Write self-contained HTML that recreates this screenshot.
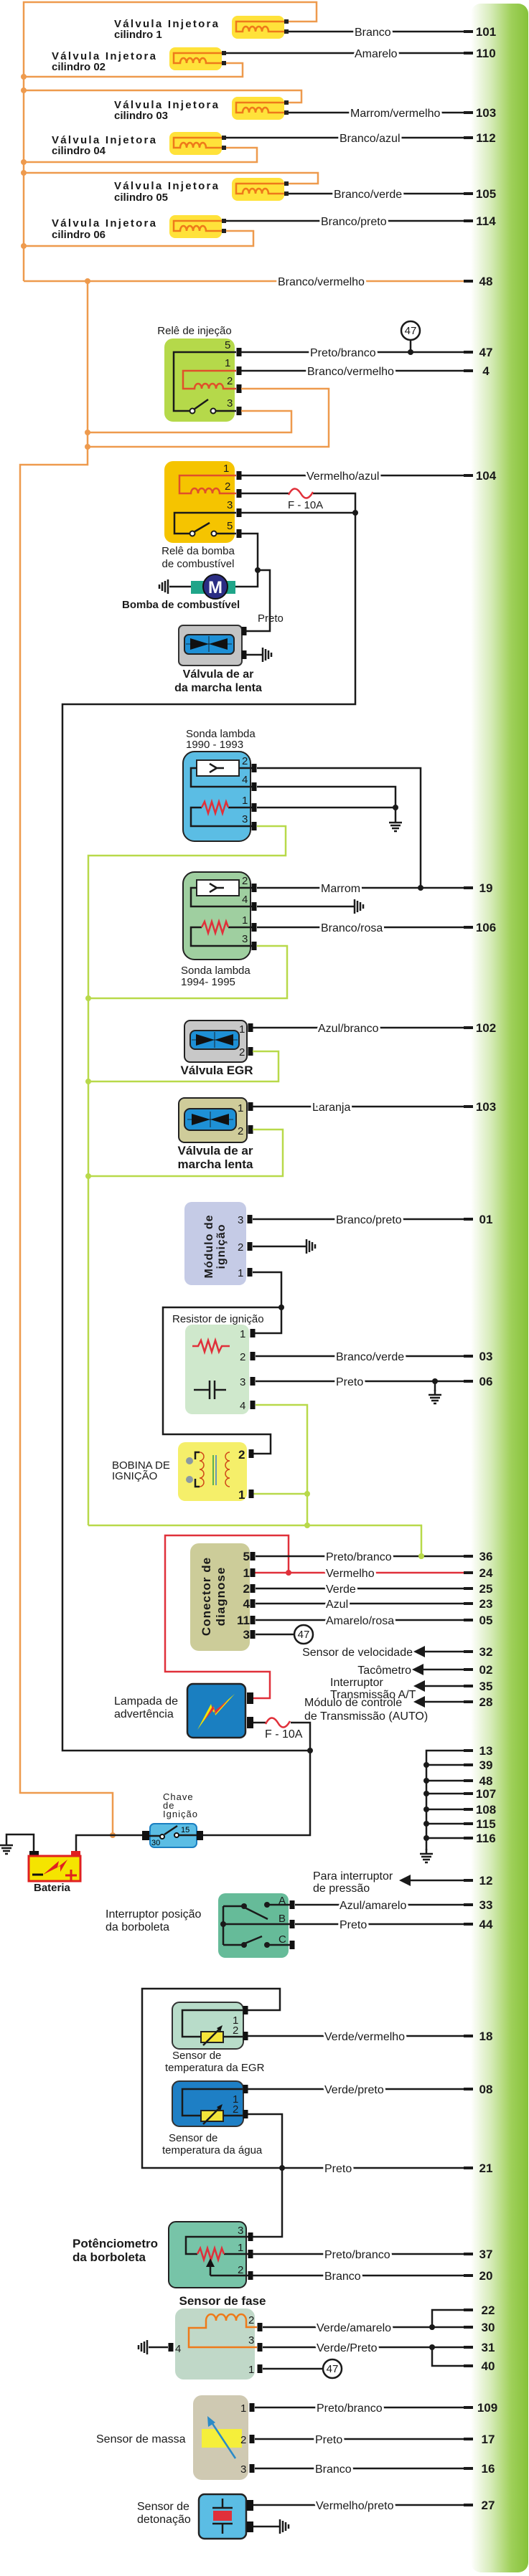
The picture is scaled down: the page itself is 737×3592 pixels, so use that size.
<!DOCTYPE html>
<html><head><meta charset="utf-8"><style>
html,body{margin:0;padding:0;background:#fff}
svg{display:block}
.l{font:16px "Liberation Sans",sans-serif;fill:#1a1a1a;stroke:#fff;stroke-width:6;paint-order:stroke;stroke-linejoin:round}
.c{font:15px "Liberation Sans",sans-serif;fill:#1a1a1a}
.b{font:bold 15px "Liberation Sans",sans-serif;fill:#1a1a1a}
.n{font:bold 17px "Liberation Sans",sans-serif;fill:#1a1a1a;text-anchor:middle}
.pn{font:15px "Liberation Sans",sans-serif;fill:#1a1a1a}
.k{stroke:#1a1a1a;stroke-width:2.5;fill:none}
.o{stroke:#ee9a4d;stroke-width:2.5;fill:none}
.g{stroke:#b8d94a;stroke-width:2.5;fill:none}
.r{stroke:#e0303a;stroke-width:2.5;fill:none}
.t{stroke:#1a1a1a;stroke-width:4;fill:none}
</style></head><body>
<svg width="737" height="3592" viewBox="0 0 737 3592" xmlns="http://www.w3.org/2000/svg">
<defs>
<linearGradient id="gb" x1="0" x2="1" y1="0" y2="0">
<stop offset="0" stop-color="#ffffff"/><stop offset="0.35" stop-color="#d6ebb8"/><stop offset="0.7" stop-color="#9fd05a"/><stop offset="1" stop-color="#86c23a"/>
</linearGradient>
<rect id="p" x="-3.5" y="-6" width="7" height="12" fill="#111"/>
<g id="gd" stroke="#1a1a1a" stroke-width="2.5" fill="none"><path d="M0 0v7M-9 7h18M-7 11h14M-5 15h10M-2 19h4"/></g>
<g id="gr" stroke="#1a1a1a" stroke-width="2.5" fill="none"><path d="M0 -10v20M4 -8v16M8 -6v12M12 -3v6"/></g>
<g id="gl" stroke="#1a1a1a" stroke-width="2.5" fill="none"><path d="M0 -10v20M-4 -8v16M-8 -6v12M-12 -3v6"/></g>
<g id="inj"><rect x="0" y="0" width="73" height="32" rx="8" fill="#ffe23a"/>
<path d="M74 8H6V22H15a4.5 7 0 0 1 9 0a4.5 7 0 0 1 9 0a4.5 7 0 0 1 9 0a4.5 7 0 0 1 9 0H60V22H74" stroke="#ee7a1a" stroke-width="2.5" fill="none"/>
<rect x="73" y="5" width="6" height="6" fill="#222"/><rect x="73" y="19" width="6" height="6" fill="#222"/></g>
<g id="bow"><polygon points="8,5 34,13 8,21" fill="#111"/><polygon points="60,5 34,13 60,21" fill="#111"/><path d="M34 2v22M2 13h64" stroke="#111" stroke-width="0.8"/></g>
</defs>

<!-- green bar -->
<rect x="656" y="5" width="80" height="3582" rx="14" fill="url(#gb)"/>

<!-- ===== injectors ===== -->
<path class="o" d="M33 392V3H441V30H402"/>
<path class="o" d="M314 88H338V107H33"/>
<path class="o" d="M33 126H420V143H402"/>
<path class="o" d="M314 206H358V226H33"/>
<path class="o" d="M33 241H443V256H402"/>
<path class="o" d="M314 322H353V343H33"/>
<path class="o" d="M33 392H646M122 392V648H28V2500H157V2559"/>
<g fill="#ee9a4d"><circle cx="33" cy="107" r="4"/><circle cx="33" cy="126" r="4"/><circle cx="33" cy="226" r="4"/><circle cx="33" cy="241" r="4"/><circle cx="33" cy="343" r="4"/><circle cx="122" cy="392" r="4"/><circle cx="122" cy="603" r="4"/><circle cx="122" cy="623" r="4"/><circle cx="157" cy="2559" r="4"/></g>
<path class="t" d="M646 392H659"/>
<text class="l" x="387" y="398">Branco/vermelho</text><text class="n" x="677" y="398">48</text>

<use href="#inj" x="323" y="22"/><use href="#inj" x="236" y="66"/><use href="#inj" x="323" y="135"/>
<use href="#inj" x="236" y="184"/><use href="#inj" x="323" y="248"/><use href="#inj" x="236" y="300"/>

<g class="b">
<text x="159" y="38" textLength="145">Válvula Injetora</text><text x="159" y="53">cilindro 1</text>
<text x="72" y="83" textLength="145">Válvula Injetora</text><text x="72" y="98">cilindro 02</text>
<text x="159" y="151" textLength="145">Válvula Injetora</text><text x="159" y="166">cilindro 03</text>
<text x="72" y="200" textLength="145">Válvula Injetora</text><text x="72" y="215">cilindro 04</text>
<text x="159" y="264" textLength="145">Válvula Injetora</text><text x="159" y="280">cilindro 05</text>
<text x="72" y="316" textLength="145">Válvula Injetora</text><text x="72" y="332">cilindro 06</text>
</g>
<path class="k" d="M402 44H646M314 74H646M402 157H646M314 192H646M402 270H646M314 308H646"/>
<path class="t" d="M646 44H659M646 74H659M646 157H659M646 192H659M646 270H659M646 308H659"/>
<text class="l" x="494" y="50">Branco</text><text class="n" x="677" y="50">101</text>
<text class="l" x="494" y="80">Amarelo</text><text class="n" x="677" y="80">110</text>
<text class="l" x="488" y="163">Marrom/vermelho</text><text class="n" x="677" y="163">103</text>
<text class="l" x="473" y="198">Branco/azul</text><text class="n" x="677" y="198">112</text>
<text class="l" x="465" y="276">Branco/verde</text><text class="n" x="677" y="276">105</text>
<text class="l" x="447" y="314">Branco/preto</text><text class="n" x="677" y="314">114</text>

<!-- ===== relé de injeção ===== -->
<text class="c" x="271" y="466" text-anchor="middle">Relê de injeção</text>
<rect x="229" y="472" width="98" height="116" rx="12" fill="#b5d94a"/>
<path class="k" d="M329 491H242V573H265M300 573H329M270 571L290 557"/>
<circle cx="268" cy="573" r="3.5" fill="#fff" stroke="#1a1a1a" stroke-width="2"/><circle cx="297" cy="573" r="3.5" fill="#fff" stroke="#1a1a1a" stroke-width="2"/>
<path d="M329 517H255V542H271a5 7 0 0 1 10 0a5 7 0 0 1 10 0a5 7 0 0 1 10 0a5 7 0 0 1 10 0H329" stroke="#e0502a" stroke-width="2.5" fill="none"/>
<use href="#p" x="333" y="491"/><use href="#p" x="333" y="517"/><use href="#p" x="333" y="542"/><use href="#p" x="333" y="573"/>
<g class="pn"><text x="313" y="486">5</text><text x="313" y="511">1</text><text x="316" y="536">2</text><text x="316" y="567">3</text></g>
<path class="k" d="M336 491H646M572 474V491M336 517H646"/>
<path class="t" d="M646 491H659M646 517H659"/>
<circle cx="572" cy="491" r="4" fill="#1a1a1a"/>
<circle cx="572" cy="461" r="13" fill="#fff" stroke="#1a1a1a" stroke-width="2.5"/><text x="572" y="466" text-anchor="middle" class="pn">47</text>
<text class="l" x="432" y="497">Preto/branco</text><text class="n" x="677" y="497">47</text>
<text class="l" x="428" y="523">Branco/vermelho</text><text class="n" x="677" y="523">4</text>
<path class="o" d="M336 542H458V623H122M336 573H406V603H122"/>

<!-- ===== relé bomba ===== -->
<rect x="229" y="643" width="98" height="114" rx="12" fill="#f5c400"/>
<path d="M329 663H250V688H266a5 7 0 0 1 10 0a5 7 0 0 1 10 0a5 7 0 0 1 10 0a5 7 0 0 1 10 0H329" stroke="#e0502a" stroke-width="2.5" fill="none"/>
<path class="k" d="M329 715H243V744H265M301 744H329M270 742L292 729"/>
<circle cx="268" cy="744" r="3.5" fill="#fff" stroke="#1a1a1a" stroke-width="2"/><circle cx="298" cy="744" r="3.5" fill="#fff" stroke="#1a1a1a" stroke-width="2"/>
<use href="#p" x="333" y="663"/><use href="#p" x="333" y="688"/><use href="#p" x="333" y="715"/><use href="#p" x="333" y="744"/>
<g class="pn"><text x="311" y="658">1</text><text x="313" y="683">2</text><text x="316" y="709">3</text><text x="316" y="738">5</text></g>
<path class="k" d="M336 663H646"/><path class="t" d="M646 663H659"/>
<text class="l" x="427" y="669">Vermelho/azul</text><text class="n" x="677" y="669">104</text>
<path class="k" d="M336 688H402M436 688H495V982H87V2441H432M336 715H495"/>
<path d="M402 690q8 -16 17 -2q8 14 17 -2" stroke="#e0303a" stroke-width="2.5" fill="none"/>
<text class="c" x="401" y="709">F - 10A</text>
<circle cx="495" cy="715" r="4" fill="#1a1a1a"/>
<text class="c" x="276" y="773" text-anchor="middle">Relê da bomba</text>
<text class="c" x="276" y="791" text-anchor="middle">de combustível</text>
<path class="k" d="M336 744H359V818H328M359 795H376V880H340M266 818H236"/>
<circle cx="359" cy="795" r="4" fill="#1a1a1a"/>
<use href="#gl" x="234" y="818"/>
<rect x="266" y="810" width="62" height="18" fill="#1fa589"/>
<circle cx="300" cy="818" r="17" fill="#2b2d84" stroke="#111" stroke-width="2"/>
<text x="300" y="827" text-anchor="middle" style="font:bold 24px 'Liberation Sans',sans-serif;fill:#fff">M</text>
<text class="b" x="170" y="848">Bomba de combustível</text>
<text class="c" x="359" y="867">Preto</text>

<!-- valvula marcha lenta -->
<rect x="249" y="872" width="88" height="56" rx="6" fill="#c4c4c4" stroke="#333" stroke-width="2"/>
<rect x="257" y="885" width="69" height="27" rx="6" fill="#1e90d6" stroke="#222" stroke-width="2"/>
<use href="#bow" x="257" y="885" transform="translate(0,0)"/>
<use href="#p" x="340" y="880"/><use href="#p" x="340" y="913"/>
<path class="k" d="M343 913H366"/><use href="#gr" x="366" y="913"/>
<text class="b" x="304" y="945" text-anchor="middle" style="font-size:16px">Válvula de ar</text>
<text class="b" x="304" y="964" text-anchor="middle" style="font-size:16px">da marcha lenta</text>

<!-- ===== sonda 1 ===== -->
<text class="c" x="259" y="1028">Sonda lambda</text><text class="c" x="259" y="1043">1990 - 1993</text>
<rect x="255" y="1048" width="94" height="125" rx="16" fill="#5bbde4" stroke="#222" stroke-width="2"/>
<rect x="274" y="1060" width="59" height="22" fill="#fff" stroke="#222" stroke-width="2"/>
<path class="k" d="M292 1065L302 1071L292 1077M302 1071H312M274 1071H266V1097H351M318 1126H351M281 1126H266V1152H351M333 1071H351"/>
<path d="M281 1126l4-8l5 16l5-16l5 16l5-16l5 16l5-16l3 8" stroke="#e0303a" stroke-width="2.5" fill="none"/>
<use href="#p" x="354" y="1071"/><use href="#p" x="354" y="1097"/><use href="#p" x="354" y="1126"/><use href="#p" x="354" y="1152"/>
<g class="pn"><text x="337" y="1066">2</text><text x="337" y="1092">4</text><text x="337" y="1121">1</text><text x="337" y="1147">3</text></g>
<path class="k" d="M358 1071H586V1238M358 1097H551V1140M358 1126H551"/>
<circle cx="551" cy="1126" r="4" fill="#1a1a1a"/><use href="#gd" x="551" y="1140"/>
<path class="g" d="M358 1152H398V1193H123V2127"/>

<!-- sonda 2 -->
<rect x="255" y="1216" width="94" height="122" rx="16" fill="#9fcfa0" stroke="#222" stroke-width="2"/>
<g transform="translate(0,167)">
<rect x="274" y="1060" width="59" height="22" fill="#fff" stroke="#222" stroke-width="2"/>
<path class="k" d="M292 1065L302 1071L292 1077M302 1071H312M274 1071H266V1097H351M318 1126H351M281 1126H266V1152H351M333 1071H351"/>
<path d="M281 1126l4-8l5 16l5-16l5 16l5-16l5 16l5-16l3 8" stroke="#e0303a" stroke-width="2.5" fill="none"/>
<use href="#p" x="354" y="1071"/><use href="#p" x="354" y="1097"/><use href="#p" x="354" y="1126"/><use href="#p" x="354" y="1152"/>
<g class="pn"><text x="337" y="1066">2</text><text x="337" y="1092">4</text><text x="337" y="1121">1</text><text x="337" y="1147">3</text></g>
</g>
<path class="k" d="M358 1238H646M358 1264H494M358 1293H646"/>
<use href="#gr" x="494" y="1264"/>
<circle cx="586" cy="1238" r="4" fill="#1a1a1a"/>
<path class="t" d="M646 1238H659M646 1293H659"/>
<text class="l" x="447" y="1244">Marrom</text><text class="n" x="677" y="1244">19</text>
<text class="l" x="447" y="1299">Branco/rosa</text><text class="n" x="677" y="1299">106</text>
<path class="g" d="M358 1319H400V1392H123"/>
<text class="c" x="252" y="1358">Sonda lambda</text><text class="c" x="252" y="1374">1994- 1995</text>

<!-- EGR -->
<rect x="257" y="1423" width="87" height="58" rx="8" fill="#c8c8c8" stroke="#222" stroke-width="2"/>
<rect x="265" y="1437" width="68" height="26" rx="7" fill="#1e90d6" stroke="#222" stroke-width="2"/>
<use href="#bow" transform="translate(265,1437)"/>
<use href="#p" x="349" y="1433"/><use href="#p" x="349" y="1466"/>
<g class="pn"><text x="333" y="1440">1</text><text x="333" y="1472">2</text></g>
<path class="k" d="M352 1433H646"/><path class="t" d="M646 1433H659"/>
<text class="l" x="443" y="1439">Azul/branco</text><text class="n" x="677" y="1439">102</text>
<path class="g" d="M352 1466H388V1508H123"/>
<text class="b" x="302" y="1498" text-anchor="middle" style="font-size:17px">Válvula EGR</text>

<!-- valve 2 -->
<rect x="249" y="1531" width="95" height="62" rx="8" fill="#cfcc9a" stroke="#222" stroke-width="2"/>
<rect x="257" y="1546" width="72" height="30" rx="8" fill="#1e90d6" stroke="#222" stroke-width="2"/>
<use href="#bow" transform="translate(259,1548)"/>
<use href="#p" x="349" y="1543"/><use href="#p" x="349" y="1575"/>
<g class="pn"><text x="331" y="1550">1</text><text x="331" y="1582">2</text></g>
<path class="k" d="M352 1543H646"/><path class="t" d="M646 1543H659"/>
<text class="l" x="435" y="1549">Laranja</text><text class="n" x="677" y="1549">103</text>
<path class="g" d="M352 1575H394V1640H123"/>
<text class="b" x="300" y="1610" text-anchor="middle" style="font-size:17px">Válvula de ar</text>
<text class="b" x="300" y="1629" text-anchor="middle" style="font-size:17px">marcha lenta</text>
<g fill="#b8d94a"><circle cx="123" cy="1392" r="4"/><circle cx="123" cy="1508" r="4"/><circle cx="123" cy="1640" r="4"/><circle cx="428" cy="2083" r="4"/><circle cx="428" cy="2127" r="4"/><circle cx="587" cy="2170" r="4"/></g>

<!-- modulo ignição -->
<rect x="257" y="1676" width="86" height="116" rx="10" fill="#c5cbe6"/>
<text class="b" transform="translate(296,1738) rotate(-90)" text-anchor="middle" style="font-size:16px;letter-spacing:1px">Módulo de</text>
<text class="b" transform="translate(313,1738) rotate(-90)" text-anchor="middle" style="font-size:16px;letter-spacing:1px">ignição</text>
<use href="#p" x="348" y="1700"/><use href="#p" x="348" y="1738"/><use href="#p" x="348" y="1774"/>
<g class="pn"><text x="331" y="1706">3</text><text x="331" y="1744">2</text><text x="331" y="1780">1</text></g>
<path class="k" d="M352 1700H646M352 1738H427M352 1774H392V1859H355M392 1823H227V2000H377V2027H352"/>
<use href="#gr" x="427" y="1738"/>
<circle cx="392" cy="1823" r="4" fill="#1a1a1a"/>
<path class="t" d="M646 1700H659"/>
<text class="l" x="468" y="1706">Branco/preto</text><text class="n" x="677" y="1706">01</text>

<!-- resistor -->
<text class="c" x="240" y="1844">Resistor de ignição</text>
<rect x="258" y="1847" width="89" height="125" rx="10" fill="#cfe8cc"/>
<path d="M268 1877h8l4-8l5 16l5-16l5 16l5-16l5 16l4-8h11" stroke="#e0303a" stroke-width="2.5" fill="none"/>
<path class="k" d="M270 1938H292M292 1925V1951M299 1925V1951M299 1938H315"/>
<use href="#p" x="352" y="1859"/><use href="#p" x="352" y="1891"/><use href="#p" x="352" y="1926"/><use href="#p" x="352" y="1959"/>
<g class="pn"><text x="334" y="1865">1</text><text x="334" y="1897">2</text><text x="334" y="1932">3</text><text x="334" y="1965">4</text></g>
<path class="k" d="M356 1891H646M356 1926H646M606 1926V1940"/>
<circle cx="606" cy="1926" r="4" fill="#1a1a1a"/><use href="#gd" x="606" y="1938"/>
<path class="t" d="M646 1891H659M646 1926H659"/>
<text class="l" x="468" y="1897">Branco/verde</text><text class="n" x="677" y="1897">03</text>
<text class="l" x="468" y="1932">Preto</text><text class="n" x="677" y="1932">06</text>
<path class="g" d="M356 1959H428V2127M352 2083H428M123 2127H587V2170"/>

<!-- bobina -->
<rect x="248" y="2011" width="96" height="82" rx="10" fill="#f5ef6a"/>
<path class="k" d="M272 2035V2025H278M272 2062V2073H278"/>
<circle cx="264" cy="2037" r="5" fill="#8b9aa3"/><circle cx="264" cy="2063" r="5" fill="#8b9aa3"/>
<path d="M278 2025a6 6 0 0 1 0 12a6 6 0 0 1 0 12a6 6 0 0 1 0 12a6 6 0 0 1 0 12" stroke="#d04a1a" stroke-width="1.5" fill="none"/>
<path d="M320 2025a6 6 0 0 0 0 12a6 6 0 0 0 0 12a6 6 0 0 0 0 12a6 6 0 0 0 0 12" stroke="#d04a1a" stroke-width="1.5" fill="none"/>
<path d="M297 2029V2071" stroke="#2a9a4a" stroke-width="1.5"/><path d="M301 2029V2071" stroke="#3a7ad0" stroke-width="1.5"/>
<use href="#p" x="350" y="2027"/><use href="#p" x="350" y="2083"/>
<g class="n" style="text-anchor:start"><text x="332" y="2034">2</text><text x="332" y="2090">1</text></g>
<text class="c" x="156" y="2048">BOBINA DE</text><text class="c" x="156" y="2063">IGNIÇÃO</text>

<!-- diagnose -->
<path class="r" d="M402 2193V2141H230V2331H376V2368H352M352 2193H646"/>
<circle cx="402" cy="2193" r="4" fill="#e0303a"/>
<rect x="265" y="2152" width="83" height="150" rx="12" fill="#cccc99"/>
<text class="b" transform="translate(293,2226) rotate(-90)" text-anchor="middle" style="font-size:17px;letter-spacing:1px">Conector de</text>
<text class="b" transform="translate(313,2226) rotate(-90)" text-anchor="middle" style="font-size:17px;letter-spacing:1px">diagnose</text>
<use href="#p" x="352" y="2170"/><use href="#p" x="352" y="2193"/><use href="#p" x="352" y="2215"/><use href="#p" x="352" y="2236"/><use href="#p" x="352" y="2259"/><use href="#p" x="352" y="2279"/>
<g class="n" style="text-anchor:end"><text x="348" y="2176">5</text><text x="348" y="2199">1</text><text x="348" y="2221">2</text><text x="348" y="2242">4</text><text x="348" y="2265">11</text><text x="348" y="2285">3</text></g>
<path class="k" d="M356 2170H646M356 2215H646M356 2236H646M356 2259H646M356 2279H410"/>
<path class="t" d="M646 2170H659M646 2215H659M646 2236H659M646 2259H659"/><path d="M646 2193H659" stroke="#1a1a1a" stroke-width="4"/>
<circle cx="587" cy="2170" r="4" fill="#b8d94a"/>
<text class="l" x="454" y="2176">Preto/branco</text><text class="n" x="677" y="2176">36</text>
<text class="l" x="454" y="2199">Vermelho</text><text class="n" x="677" y="2199">24</text>
<text class="l" x="454" y="2221">Verde</text><text class="n" x="677" y="2221">25</text>
<text class="l" x="454" y="2242">Azul</text><text class="n" x="677" y="2242">23</text>
<text class="l" x="454" y="2265">Amarelo/rosa</text><text class="n" x="677" y="2265">05</text>
<circle cx="423" cy="2279" r="13" fill="#fff" stroke="#1a1a1a" stroke-width="2.5"/><text x="423" y="2284" text-anchor="middle" class="pn">47</text>

<!-- arrows -->
<path class="k" d="M646 2303H588M646 2328H586M646 2351H588M646 2373H588"/>
<path class="t" d="M646 2303H659M646 2328H659M646 2351H659M646 2373H659"/>
<g fill="#1a1a1a"><polygon points="576,2303 592,2295 592,2311"/><polygon points="574,2328 590,2320 590,2336"/><polygon points="576,2351 592,2343 592,2359"/><polygon points="576,2373 592,2365 592,2381"/></g>
<text class="c" x="575" y="2309" text-anchor="end" style="font-size:16px">Sensor de velocidade</text><text class="n" x="677" y="2309">32</text>
<text class="c" x="573" y="2334" text-anchor="end" style="font-size:16px">Tacômetro</text><text class="n" x="677" y="2334">02</text>
<text class="c" x="460" y="2351" style="font-size:16px">Interruptor</text><text class="c" x="460" y="2368" style="font-size:16px">Transmissão A/T</text><text class="n" x="677" y="2357">35</text>
<text class="c" x="424" y="2379" style="font-size:16px">Módulo de controle</text><text class="c" x="424" y="2398" style="font-size:16px">de Transmissão (AUTO)</text><text class="n" x="677" y="2379">28</text>

<!-- lamp -->
<rect x="261" y="2348" width="81" height="75" rx="8" fill="#1a7fc1" stroke="#222" stroke-width="2.5"/>
<polygon points="327,2362 300,2392 298,2380 275,2412 294,2376 297,2388" fill="#f5e400"/>
<polygon points="318,2370 300,2390 299,2382 284,2400 297,2378 299,2386" fill="#e0303a"/>
<rect x="344" y="2360" width="9" height="16" fill="#111"/><rect x="344" y="2394" width="9" height="16" fill="#111"/>
<path class="k" d="M353 2402H370M405 2402H432V2559H281"/>
<path d="M370 2404q8 -16 17 -2q8 14 17 -2" stroke="#e0303a" stroke-width="2.5" fill="none"/>
<text class="c" x="369" y="2423" style="font-size:16px">F - 10A</text>
<circle cx="432" cy="2441" r="4" fill="#1a1a1a"/>
<text class="c" x="159" y="2377" style="font-size:16px">Lampada de</text><text class="c" x="159" y="2395" style="font-size:16px">advertência</text>

<!-- ground bus -->
<path class="k" d="M646 2441H594V2580M594 2461H646M594 2483H646M594 2501H646M594 2523H646M594 2543H646M594 2563H646"/>
<path class="t" d="M646 2441H659M646 2461H659M646 2483H659M646 2501H659M646 2523H659M646 2543H659M646 2563H659"/>
<g fill="#1a1a1a"><circle cx="594" cy="2461" r="4"/><circle cx="594" cy="2483" r="4"/><circle cx="594" cy="2501" r="4"/><circle cx="594" cy="2523" r="4"/><circle cx="594" cy="2543" r="4"/><circle cx="594" cy="2563" r="4"/></g>
<use href="#gd" x="594" y="2578"/>
<text class="n" x="677" y="2447">13</text><text class="n" x="677" y="2467">39</text><text class="n" x="677" y="2489">48</text><text class="n" x="677" y="2507">107</text><text class="n" x="677" y="2529">108</text><text class="n" x="677" y="2549">115</text><text class="n" x="677" y="2569">116</text>

<!-- battery -->
<path class="k" d="M106 2582V2559H203M47 2582V2558H9V2566"/>
<use href="#gd" x="9" y="2566"/>
<rect x="41" y="2581" width="13" height="7" fill="#111"/><rect x="99" y="2581" width="13" height="7" fill="#e02020"/>
<rect x="40" y="2588" width="72" height="35" fill="#f5e400" stroke="#e02020" stroke-width="3"/>
<polygon points="60,2614 82,2595 80,2604 94,2593 84,2610 84,2602" fill="#e02020"/>
<path d="M45 2614H60" stroke="#111" stroke-width="3"/><path d="M91 2615H107M99 2607V2622" stroke="#e02020" stroke-width="3"/>
<text class="b" x="47" y="2637" style="font-size:15px">Bateria</text>
<!-- switch -->
<rect x="209" y="2543" width="65" height="33" rx="6" fill="#5bbde4" stroke="#1a7fc1" stroke-width="2"/>
<rect x="198" y="2553" width="10" height="13" fill="#111"/><rect x="274" y="2553" width="9" height="13" fill="#111"/>
<path class="k" d="M208 2560H223M229 2558L247 2546M249 2559H274"/>
<circle cx="226" cy="2561" r="3" fill="#fff" stroke="#111" stroke-width="2"/><circle cx="246" cy="2559" r="3" fill="#fff" stroke="#111" stroke-width="2"/>
<text x="211" y="2573" style="font:11px 'Liberation Sans',sans-serif">30</text><text x="252" y="2555" style="font:11px 'Liberation Sans',sans-serif">15</text>
<g style="font:13px 'Liberation Sans',sans-serif;fill:#1a1a1a;letter-spacing:1px"><text x="227" y="2510">Chave</text><text x="227" y="2522">de</text><text x="227" y="2534">Ignição</text></g>

<!-- pressão -->
<path class="k" d="M646 2622H568"/><path class="t" d="M646 2622H659"/>
<polygon points="556,2622 572,2614 572,2630" fill="#1a1a1a"/>
<text class="c" x="436" y="2621" style="font-size:16px">Para interruptor</text><text class="c" x="436" y="2638" style="font-size:16px">de pressão</text><text class="n" x="677" y="2628">12</text>

<!-- interruptor borboleta -->
<rect x="304" y="2640" width="98" height="90" rx="10" fill="#66bb99"/>
<path class="k" d="M311 2658V2712M311 2683H404M311 2658H340M372 2656H404M341 2660L373 2676M311 2712H340M372 2712H404M341 2710L365 2700"/>
<g fill="#1a1a1a"><circle cx="311" cy="2683" r="4"/><circle cx="340" cy="2658" r="4"/><circle cx="372" cy="2656" r="4"/><circle cx="340" cy="2712" r="4"/><circle cx="372" cy="2712" r="4"/></g>
<use href="#p" x="407" y="2656"/><use href="#p" x="407" y="2683"/><use href="#p" x="407" y="2712"/>
<g class="pn"><text x="388" y="2655">A</text><text x="388" y="2680">B</text><text x="388" y="2709">C</text></g>
<path class="k" d="M411 2656H646M411 2683H646"/><path class="t" d="M646 2656H659M646 2683H659"/>
<text class="l" x="473" y="2662">Azul/amarelo</text><text class="n" x="677" y="2662">33</text>
<text class="l" x="473" y="2689">Preto</text><text class="n" x="677" y="2689">44</text>
<text class="c" x="147" y="2674" style="font-size:16px">Interruptor posição</text><text class="c" x="147" y="2692" style="font-size:16px">da borboleta</text>

<!-- temp sensors -->
<path class="k" d="M345 2803H390V2773H198V3023H646M345 2948H393V3119H352"/>
<circle cx="393" cy="3023" r="4" fill="#1a1a1a"/>
<rect x="240" y="2792" width="99" height="65" rx="10" fill="#b8dcc9" stroke="#333" stroke-width="2"/>
<path class="k" d="M338 2803H254V2840H338"/>
<rect x="280" y="2833" width="31" height="15" fill="#f5e43a" stroke="#222" stroke-width="2"/>
<path class="k" d="M283 2852L307 2828"/><polygon points="310,2824 302,2828 307,2833" fill="#111"/>
<use href="#p" x="342" y="2803"/><use href="#p" x="342" y="2839"/>
<g class="pn"><text x="324" y="2822">1</text><text x="324" y="2836">2</text></g>
<path class="k" d="M345 2839H646"/><path class="t" d="M646 2839H659"/>
<text class="l" x="452" y="2845">Verde/vermelho</text><text class="n" x="677" y="2845">18</text>
<text class="c" x="240" y="2871">Sensor de</text><text class="c" x="230" y="2888">temperatura  da EGR</text>

<rect x="240" y="2902" width="99" height="63" rx="10" fill="#1e7fc5" stroke="#333" stroke-width="2"/>
<path class="k" d="M338 2913H254V2950H338"/>
<rect x="280" y="2943" width="31" height="15" fill="#f5e43a" stroke="#222" stroke-width="2"/>
<path class="k" d="M283 2962L307 2938"/><polygon points="310,2934 302,2938 307,2943" fill="#111"/>
<use href="#p" x="342" y="2913"/><use href="#p" x="342" y="2948"/>
<g class="pn"><text x="324" y="2932">1</text><text x="324" y="2946">2</text></g>
<path class="k" d="M345 2913H646"/><path class="t" d="M646 2913H659M646 3023H659"/>
<text class="l" x="452" y="2919">Verde/preto</text><text class="n" x="677" y="2919">08</text>
<text class="l" x="452" y="3029">Preto</text><text class="n" x="677" y="3029">21</text>
<text class="c" x="235" y="2986">Sensor de</text><text class="c" x="226" y="3003">temperatura  da água</text>

<!-- pot -->
<rect x="235" y="3098" width="108" height="92" rx="10" fill="#77c4a8" stroke="#222" stroke-width="2"/>
<path class="k" d="M346 3119H259V3143H275M312 3143H346M293 3173V3160M293 3173H346"/>
<path d="M275 3143l4-8l5 16l5-16l5 16l5-16l5 16l5-16l3 8" stroke="#e0303a" stroke-width="2.5" fill="none"/>
<polygon points="293,3149 287,3161 299,3161" fill="#111"/>
<use href="#p" x="349" y="3119"/><use href="#p" x="349" y="3143"/><use href="#p" x="349" y="3173"/>
<g class="pn"><text x="331" y="3115">3</text><text x="331" y="3139">1</text><text x="331" y="3170">2</text></g>
<path class="k" d="M352 3143H646M352 3173H646"/><path class="t" d="M646 3143H659M646 3173H659"/>
<text class="l" x="452" y="3149">Preto/branco</text><text class="n" x="677" y="3149">37</text>
<text class="l" x="452" y="3179">Branco</text><text class="n" x="677" y="3179">20</text>
<text class="b" x="101" y="3134" style="font-size:17px">Potênciometro</text><text class="b" x="101" y="3153" style="font-size:17px">da borboleta</text>

<!-- fase -->
<text class="b" x="310" y="3214" text-anchor="middle" style="font-size:17px">Sensor de fase</text>
<rect x="244" y="3219" width="111" height="99" rx="12" fill="#c0d8c8"/>
<path d="M358 3245H343V3236a7 9 0 0 0 -14 0a7 9 0 0 0 -14 0a7 9 0 0 0 -14 0a7 9 0 0 0 -14 0V3246H263V3273H358" stroke="#ee7a1a" stroke-width="2.5" fill="none"/>
<use href="#p" x="362" y="3245"/><use href="#p" x="362" y="3273"/><use href="#p" x="362" y="3303"/><use href="#p" x="238" y="3273"/>
<g class="pn"><text x="346" y="3240">2</text><text x="346" y="3268">3</text><text x="346" y="3309">1</text><text x="244" y="3280">4</text></g>
<path class="k" d="M234 3273H207"/><use href="#gl" x="205" y="3273"/>
<path class="k" d="M366 3245H646M366 3273H646M602 3245V3221H646M602 3273V3299H646M366 3303H450"/>
<path class="t" d="M646 3221H659M646 3245H659M646 3273H659M646 3299H659"/>
<g fill="#1a1a1a"><circle cx="602" cy="3245" r="4"/><circle cx="602" cy="3273" r="4"/></g>
<text class="l" x="441" y="3251">Verde/amarelo</text><text class="l" x="441" y="3279">Verde/Preto</text>
<text class="n" x="680" y="3227">22</text><text class="n" x="680" y="3251">30</text><text class="n" x="680" y="3279">31</text><text class="n" x="680" y="3305">40</text>
<circle cx="463" cy="3303" r="13" fill="#fff" stroke="#1a1a1a" stroke-width="2.5"/><text x="463" y="3308" text-anchor="middle" class="pn">47</text>

<!-- massa -->
<rect x="269" y="3340" width="77" height="118" rx="12" fill="#cfc9b2"/>
<rect x="281" y="3387" width="56" height="26" fill="#f5ef3a"/>
<path d="M328 3428L293 3375" stroke="#2a8ac8" stroke-width="2.5"/><polygon points="289,3369 290,3384 300,3378" fill="#2a8ac8"/>
<use href="#p" x="351" y="3357"/><use href="#p" x="351" y="3401"/><use href="#p" x="351" y="3442"/>
<g class="pn"><text x="335" y="3363">1</text><text x="335" y="3407">2</text><text x="335" y="3448">3</text></g>
<path class="k" d="M355 3357H646M355 3401H646M355 3442H646"/><path class="t" d="M646 3357H659M646 3401H659M646 3442H659"/>
<text class="l" x="441" y="3363">Preto/branco</text><text class="n" x="679" y="3363">109</text>
<text class="l" x="439" y="3407">Preto</text><text class="n" x="680" y="3407">17</text>
<text class="l" x="439" y="3448">Branco</text><text class="n" x="680" y="3448">16</text>
<text class="c" x="134" y="3406" style="font-size:16px">Sensor de massa</text>

<!-- detonação -->
<rect x="277" y="3478" width="66" height="62" rx="8" fill="#5bbde4" stroke="#222" stroke-width="2.5"/>
<path class="k" d="M310 3484V3497M296 3497H324M296 3519H324M310 3519V3533"/>
<rect x="297" y="3501" width="26" height="14" fill="#e0303a"/>
<rect x="344" y="3486" width="9" height="15" fill="#111"/><rect x="344" y="3516" width="9" height="15" fill="#111"/>
<path class="k" d="M353 3493H646M353 3523H390"/><use href="#gr" x="390" y="3523"/>
<path class="t" d="M646 3493H659"/>
<text class="l" x="440" y="3499">Vermelho/preto</text><text class="n" x="680" y="3499">27</text>
<text class="c" x="191" y="3500" style="font-size:16px">Sensor de</text><text class="c" x="191" y="3518" style="font-size:16px">detonação</text>
</svg>
</body></html>
